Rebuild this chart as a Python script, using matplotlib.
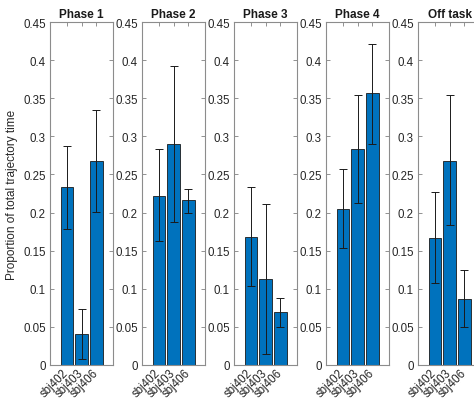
import numpy as np
import matplotlib
matplotlib.use("Agg")
import matplotlib.pyplot as plt

plt.rcParams['font.family'] = ['Liberation Sans', 'DejaVu Sans']

subjects = ['sbj402', 'sbj403', 'sbj406']
phases = ['Phase 1', 'Phase 2', 'Phase 3', 'Phase 4', 'Off task']

# mean proportion per subject, one list per phase
phase1 = [0.233, 0.040, 0.268]
phase2 = [0.222, 0.290, 0.216]
phase3 = [0.168, 0.112, 0.069]
phase4 = [0.205, 0.284, 0.357]
offtask = [0.167, 0.268, 0.087]

# lower / upper ends of the error bars
phase1_lo = [0.179, 0.007, 0.201]
phase1_hi = [0.287, 0.073, 0.335]
phase2_lo = [0.163, 0.188, 0.200]
phase2_hi = [0.284, 0.392, 0.231]
phase3_lo = [0.103, 0.014, 0.049]
phase3_hi = [0.233, 0.211, 0.088]
phase4_lo = [0.153, 0.212, 0.290]
phase4_hi = [0.257, 0.355, 0.422]
offtask_lo = [0.107, 0.183, 0.049]
offtask_hi = [0.227, 0.354, 0.124]

means = [phase1, phase2, phase3, phase4, offtask]
lows = [phase1_lo, phase2_lo, phase3_lo, phase4_lo, offtask_lo]
highs = [phase1_hi, phase2_hi, phase3_hi, phase4_hi, offtask_hi]

fig = plt.figure(figsize=(4.74, 4.02), dpi=100)

x = np.arange(1, 4)
left0 = 50 / 474
step = 92 / 474
width = 63 / 474
bottom = 1 - 365.7 / 402
height = (365.7 - 23.3) / 402

txt = '#262626'
for i, name in enumerate(phases):
    ax = fig.add_axes([left0 + i * step, bottom, width, height])
    m = np.array(means[i])
    lo = m - np.array(lows[i])
    hi = np.array(highs[i]) - m
    ax.bar(x, m, width=0.85, color='#0072BD', edgecolor='#1a1a1a', linewidth=0.6, zorder=2)
    ax.errorbar(x, m, yerr=[lo, hi], fmt='none', ecolor='#1a1a1a',
                elinewidth=0.7, capsize=3.2, capthick=0.7, zorder=3)
    ax.set_xlim(-0.14, 4.12)
    ax.set_ylim(0, 0.45)
    ax.set_yticks(np.arange(0, 0.451, 0.05))
    ax.set_yticklabels(['0', '0.05', '0.1', '0.15', '0.2', '0.25', '0.3', '0.35', '0.4', '0.45'])
    ax.set_xticks(x)
    ax.set_xticklabels(subjects, rotation=45, ha='right', va='center',
                       rotation_mode='anchor')
    ax.tick_params(direction='in', top=True, right=True, length=3, width=0.6,
                   labelsize=8.3, colors='#808080', labelcolor=txt, pad=3)
    ax.tick_params(axis='x', pad=4)
    for s in ax.spines.values():
        s.set_color('#8c8c8c')
        s.set_linewidth(0.8)
    ax.set_title(name, fontsize=8.5, fontweight='bold', color='#1a1a1a', pad=4)
    if i == 0:
        ax.set_ylabel('Proportion of total trajectory time', fontsize=8.5, color=txt, labelpad=4)

fig.savefig('out.png', dpi=100)
